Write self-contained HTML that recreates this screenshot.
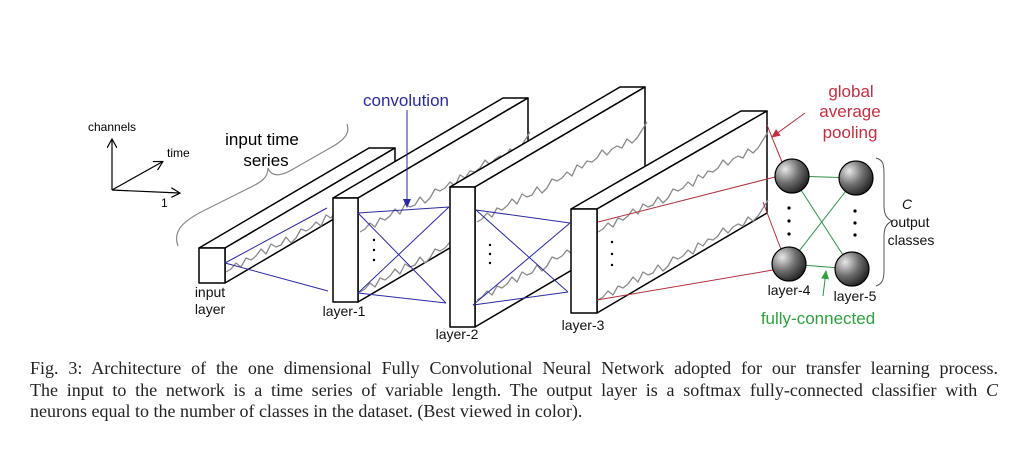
<!DOCTYPE html>
<html><head><meta charset="utf-8"><style>
html,body{margin:0;padding:0;background:#fff;width:1028px;height:455px;overflow:hidden}
svg{position:absolute;left:0;top:0}
.cap{position:absolute;left:30px;width:968px;font-family:"Liberation Serif",serif;font-size:18px;color:#222;text-align:justify;text-align-last:justify;white-space:nowrap;line-height:21px}
</style></head><body>
<svg width="1028" height="455" viewBox="0 0 1028 455" font-family="Liberation Sans, DejaVu Sans, sans-serif">
<defs>
<path id="w" d="m0,0 l5,-3 l5,-6 l5,4 l5,-9 l5,2 l5,-4 l5,-7 l5,5 l5,-10 l5,3 l5,-2 l5,-8 l5,6 l5,-5 l5,-9 l5,2 l5,-3 l5,-6 l5,4 l5,-11 l5,3 l5,-7 l5,1 l5,-4 l5,-8 l5,5 l5,-6 l5,-3 l5,2 l5,-9 l5,4 l5,-5 l5,-8 l5,-8" fill="none" stroke="#8a8a8a" stroke-width="1.3"/>
<radialGradient id="g" cx="0.3" cy="0.3" r="0.8"><stop offset="0" stop-color="#e8e8e8"/><stop offset="0.5" stop-color="#707070"/><stop offset="1" stop-color="#1a1a1a"/></radialGradient>
<marker id="ab" markerWidth="10" markerHeight="10" refX="8" refY="5" orient="auto" markerUnits="userSpaceOnUse"><path d="M0,1 L9,5 L0,9 z" fill="#2a2aa0"/></marker>
<marker id="ar" markerWidth="10" markerHeight="10" refX="8" refY="5" orient="auto" markerUnits="userSpaceOnUse"><path d="M0,1 L9,5 L0,9 z" fill="#c03040"/></marker>
<marker id="ag" markerWidth="10" markerHeight="10" refX="8" refY="5" orient="auto" markerUnits="userSpaceOnUse"><path d="M0,1 L9,5 L0,9 z" fill="#30a040"/></marker>
<marker id="ak" markerWidth="10" markerHeight="10" refX="8" refY="5" orient="auto" markerUnits="userSpaceOnUse"><path d="M0,0 L9,5 L0,10" fill="none" stroke="#000" stroke-width="1.2"/></marker>
</defs>
<g stroke="#000" stroke-width="1.2" fill="none">
<line x1="112" y1="190" x2="112" y2="140" marker-end="url(#ak)"/>
<line x1="112" y1="190" x2="162" y2="162" marker-end="url(#ak)"/>
<line x1="112" y1="190" x2="179" y2="193" marker-end="url(#ak)"/>
</g>
<text x="88" y="131" font-size="12">channels</text>
<text x="167" y="157" font-size="12">time</text>
<text x="161" y="207" font-size="12">1</text>
<path d="M178,246 C172,230 185,220 205,210 L245,190 C262,182 268,178 268,168 C272,178 282,176 295,168 L330,148 C345,140 350,133 347,124" fill="none" stroke="#888" stroke-width="1.2"/>
<text x="262" y="145" font-size="17" text-anchor="middle">input time</text>
<text x="266" y="166" font-size="17" text-anchor="middle">series</text>
<g stroke="#000" stroke-width="1.5" fill="#fff" stroke-linejoin="round">
<polygon points="199,248 225,248 395,148 369,148"/>
<polygon points="225,248 395,148 395,183 225,283"/>
<use href="#w" x="226" y="272"/>
<rect x="199" y="248" width="26" height="35"/>
<polygon points="333,198 358,198 528,98 503,98"/>
<polygon points="358,198 528,98 528,202 358,302"/>
<use href="#w" x="360" y="232"/>
<use href="#w" x="360" y="292"/>
<rect x="333" y="198" width="25" height="104"/>
<polygon points="450,187 475,187 645,87 620,87"/>
<polygon points="475,187 645,87 645,227 475,327"/>
<use href="#w" x="477" y="222"/>
<use href="#w" x="477" y="300"/>
<rect x="450" y="187" width="25" height="140"/>
<polygon points="571,209 597,209 767,111 741,111"/>
<polygon points="597,209 767,111 767,213 597,313"/>
<use href="#w" x="598" y="232"/>
<use href="#w" x="598" y="300"/>
<rect x="571" y="209" width="26" height="104"/>
</g>
<g stroke="#2a2aa0" stroke-width="1" fill="none">
<line x1="225" y1="263" x2="328" y2="291"/>
<line x1="225" y1="263" x2="327" y2="208"/>
<line x1="358" y1="213" x2="449" y2="207"/>
<line x1="358" y1="213" x2="446" y2="303"/>
<line x1="358" y1="293" x2="449" y2="207"/>
<line x1="358" y1="293" x2="446" y2="303"/>
<line x1="476" y1="210" x2="570" y2="223"/>
<line x1="476" y1="210" x2="568" y2="292"/>
<line x1="473" y1="305" x2="570" y2="223"/>
<line x1="473" y1="305" x2="568" y2="292"/>
<line x1="407" y1="110" x2="407" y2="207" marker-end="url(#ab)"/>
</g>
<text x="406" y="106" font-size="17" fill="#2a2aa0" text-anchor="middle">convolution</text>
<g fill="#000">
<circle cx="374" cy="240" r="1.2"/><circle cx="374" cy="250" r="1.2"/><circle cx="374" cy="260" r="1.2"/>
<circle cx="490" cy="245" r="1.2"/><circle cx="490" cy="254" r="1.2"/><circle cx="490" cy="263" r="1.2"/>
<circle cx="612" cy="242" r="1.2"/><circle cx="612" cy="254" r="1.2"/><circle cx="612" cy="265" r="1.2"/>
<circle cx="789" cy="208" r="1.6"/><circle cx="789" cy="221" r="1.6"/><circle cx="789" cy="234" r="1.6"/>
<circle cx="855" cy="211" r="1.6"/><circle cx="855" cy="223" r="1.6"/><circle cx="855" cy="235" r="1.6"/>
</g>
<g stroke="#b03040" stroke-width="1" fill="none">
<line x1="598" y1="222" x2="775" y2="177"/>
<line x1="767" y1="125" x2="782" y2="162"/>
<line x1="597" y1="300" x2="773" y2="270"/>
<line x1="763" y1="202" x2="782" y2="252"/>
<line x1="805" y1="113" x2="772" y2="137" marker-end="url(#ar)"/>
</g>
<text font-size="17" fill="#c03040" text-anchor="middle"><tspan x="851" y="97">global</tspan><tspan x="850" y="117">average</tspan><tspan x="850" y="138">pooling</tspan></text>
<g stroke="#30904a" stroke-width="1" fill="none">
<line x1="792" y1="176" x2="856" y2="178"/>
<line x1="792" y1="176" x2="852" y2="269"/>
<line x1="789" y1="264" x2="856" y2="178"/>
<line x1="789" y1="264" x2="852" y2="269"/>
<line x1="823" y1="296" x2="826" y2="271" marker-end="url(#ag)"/>
</g>
<g stroke="#000" stroke-width="1.2" fill="url(#g)">
<circle cx="792" cy="176" r="17"/>
<circle cx="789" cy="264" r="17"/>
<circle cx="856" cy="178" r="17"/>
<circle cx="852" cy="269" r="17"/>
</g>
<path d="M876,158 C884,160 884,166 884,175 L884,205 C884,214 886,218 892,221 C886,224 884,228 884,237 L884,270 C884,280 882,284 876,286" fill="none" stroke="#555" stroke-width="1"/>
<text font-size="14" fill="#111" text-anchor="middle"><tspan x="907" y="209" font-style="italic">C</tspan><tspan x="910" y="227">output</tspan><tspan x="911" y="245">classes</tspan></text>
<g font-size="14" fill="#111" text-anchor="middle">
<text x="210" y="297">input</text>
<text x="210" y="314">layer</text>
<text x="344" y="316">layer-1</text>
<text x="457" y="339">layer-2</text>
<text x="583" y="330">layer-3</text>
<text x="789" y="295">layer-4</text>
<text x="855" y="301">layer-5</text>
</g>
<text x="818" y="324" font-size="17" fill="#30a040" text-anchor="middle">fully-connected</text>
</svg>
<div class="cap" style="top:358px">Fig. 3: Architecture of the one dimensional Fully Convolutional Neural Network adopted for our transfer learning process.</div>
<div class="cap" style="top:380px">The input to the network is a time series of variable length. The output layer is a softmax fully-connected classifier with <i>C</i></div>
<div class="cap" style="top:401px;text-align-last:left">neurons equal to the number of classes in the dataset. (Best viewed in color).</div>
</body></html>
